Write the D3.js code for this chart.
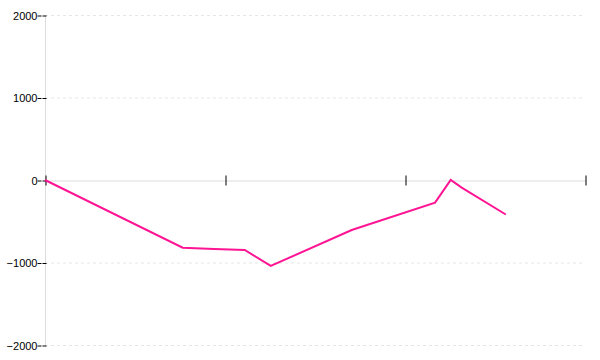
<!DOCTYPE html>
<html>
<head>
<meta charset="utf-8">
<script src="https://cdn.jsdelivr.net/npm/d3@7"></script>
<style>
  body { margin: 0; background: #fff; }
  svg { display: block; font-family: "DejaVu Sans", sans-serif; }
</style>
</head>
<body>
<div id="chart"></div>
<script>
// series data (x positions are in axis units, ticks every 10)
const xValues = [0, 7.65, 9.4, 11.1, 12.54, 17.04, 21.67, 22.54, 23.15, 25.6];
const yValues = [0, -821, -835, -848, -1042, -606, -275, 0, -93, -418];
const yTicks = [-2000, -1000, 0, 1000, 2000];
const xTicks = [0, 10, 20, 30];

const width = 600;
const height = 360;
const margin = { top: 15, right: 15, bottom: 15, left: 45 };

const data = xValues.map((x, i) => ({ x: x, y: yValues[i] }));

const svg = d3.select('#chart')
    .append('svg')
    .attr('width', width)
    .attr('height', height);

const x = d3.scaleLinear()
    .domain([0, 30])
    .range([margin.left, width - margin.right]);

const y = d3.scaleLinear()
    .domain([-2000, 2000])
    .range([height - margin.bottom, margin.top]);

// dashed grid lines
svg.append('g')
    .selectAll('line')
    .data(yTicks.filter(d => d !== 0))
    .join('line')
    .attr('x1', margin.left)
    .attr('x2', width - margin.right)
    .attr('y1', d => y(d) + 0.5)
    .attr('y2', d => y(d) + 0.5)
    .attr('stroke', '#e6e6e6')
    .attr('stroke-dasharray', '3,3');

// y axis
const yAxis = svg.append('g')
    .attr('transform', `translate(${margin.left + 0.5},0.5)`)
    .call(d3.axisLeft(y).tickValues(yTicks).tickSize(6).tickPadding(2).tickFormat(d3.format('d')));
yAxis.select('.domain').attr('stroke', '#ddd').attr('d', `M0,${y(2000)}V${y(-2000)}`);
yAxis.selectAll('.tick line').attr('stroke', '#000').attr('x2', 2).attr('x1', -8).attr('stroke-dasharray', '4,1');
yAxis.selectAll('.tick text').attr('font-size', 11).attr('fill', '#000');

// x axis at zero
const xAxis = svg.append('g')
    .attr('transform', `translate(0.5,${y(0) + 0.5})`)
    .call(d3.axisBottom(x).tickValues(xTicks).tickSize(0).tickFormat(''));
xAxis.select('.domain').attr('stroke', '#ddd');
xAxis.selectAll('.tick line').attr('stroke', '#000').attr('y1', -5).attr('y2', 5);

// line
const line = d3.line()
    .x(d => x(d.x))
    .y(d => y(d.y));

svg.append('path')
    .datum(data)
    .attr('d', line)
    .attr('fill', 'none')
    .attr('stroke', '#ff1493')
    .attr('stroke-width', 2);
</script>
</body>
</html>
